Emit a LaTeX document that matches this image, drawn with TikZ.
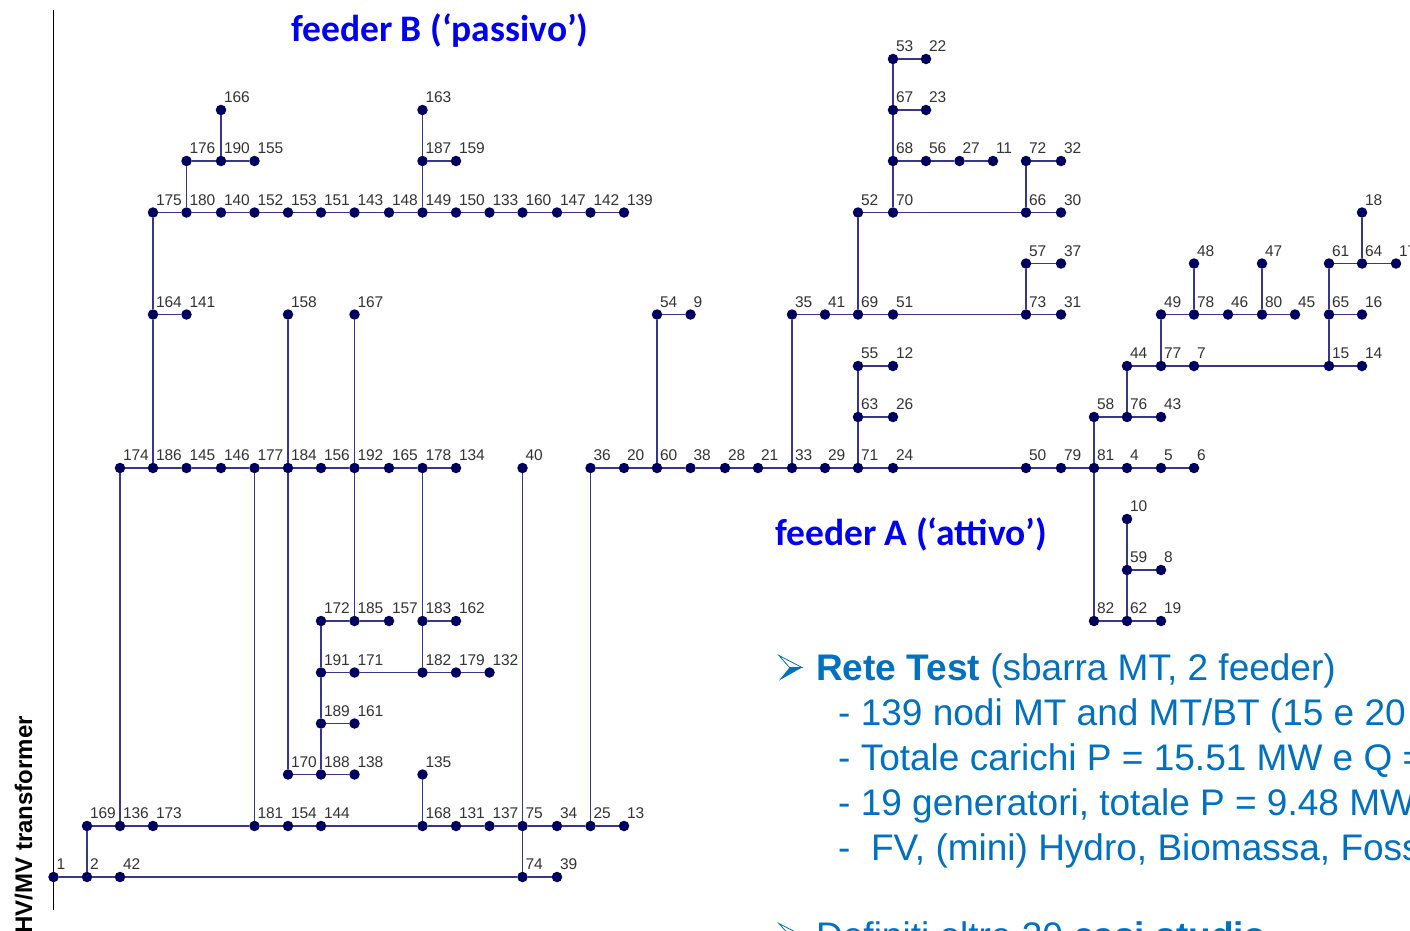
\documentclass[tikz,border=0pt]{standalone}
\usepackage{fontspec}
\setmainfont{Liberation Sans}
\newfontfamily\carlito{Carlito}
\definecolor{busfill}{HTML}{00005E}
\definecolor{wirecol}{HTML}{36368C}
\definecolor{bodyblue}{HTML}{0070C0}
\definecolor{titleblue}{HTML}{0000F0}
\tikzset{
  bus/.style={circle,fill=busfill,draw=none,minimum size=10.5pt,inner sep=0pt},
  lab/.style={anchor=base west,inner sep=0pt,outer sep=0pt,text=black!80,font=\fontsize{15.5}{16}\selectfont},
  wire/.style={draw=wirecol,line width=1.6pt},
  rail/.style={draw=black,line width=1.2pt},
  title/.style={anchor=base west,inner sep=0pt,text=titleblue,font=\carlito\bfseries\fontsize{37.5}{40}\selectfont},
  body/.style={anchor=base west,inner sep=0pt,text=bodyblue,font=\fontsize{37}{40}\selectfont},
  side/.style={anchor=base east,inner sep=0pt,rotate=90,text=black,font=\bfseries\fontsize{24}{26}\selectfont}
}
\begin{document}
\begin{tikzpicture}[x=1pt,y=-1pt]
\useasboundingbox (0,0) rectangle (1410,930);
\clip (0,0) rectangle (1410,930);
\coordinate (railtop) at (53.5,10);
\coordinate (railbot) at (53.5,910);
\draw[rail] (railtop) -- (railbot);
\foreach \y/\lst in {
 59/{53/893,22/926},
 110/{67/893,23/926,166/221,163/422.5},
 161/{176/186.5,190/221,155/254.5,187/422.5,159/456,68/893,56/926,27/959.5,11/993,72/1026,32/1061},
 212.5/{175/153,180/186.5,140/221,152/254.5,153/288,151/321,143/354.5,148/389,149/422.5,150/456,133/489.5,160/522.5,147/557,142/590.5,139/624,52/858,70/893,66/1026,30/1061,18/1362},
 263.5/{57/1026,37/1061,48/1194,47/1262,61/1329,64/1362,17/1396},
 314.5/{164/153,141/186.5,158/288,167/354.5,54/657,9/690.5,35/792,41/825,69/858,51/893,73/1026,31/1061,49/1161,78/1194,46/1228,80/1262,45/1295,65/1329,16/1362},
 366/{55/858,12/893,44/1127,77/1161,7/1194,15/1329,14/1362},
 417/{63/858,26/893,58/1094,76/1127,43/1161},
 468/{174/120,186/153,145/186.5,146/221,177/254.5,184/288,156/321,192/354.5,165/389,178/422.5,134/456,40/522.5,36/590.5,20/624,60/657,38/690.5,28/725,21/758,33/792,29/825,71/858,24/893,50/1026,79/1061,81/1094,4/1127,5/1161,6/1194},
 519/{10/1127},
 570/{59/1127,8/1161},
 621/{172/321,185/354.5,157/389,183/422.5,162/456,82/1094,62/1127,19/1161},
 672.5/{191/321,171/354.5,182/422.5,179/456,132/489.5},
 723.5/{189/321,161/354.5},
 774.5/{170/288,188/321,138/354.5,135/422.5},
 826/{169/87,136/120,173/153,181/254.5,154/288,144/321,168/422.5,131/456,137/489.5,75/522.5,34/557,25/590.5,13/624},
 877/{1/53.5,2/87,42/120,74/522.5,39/557}}{
  \foreach \i/\x in \lst {
    \node[bus] (n\i) at (\x,\y) {};
    \node[lab] (t\i) at (\x+3,\y-7.2) {\i};
  }
}
\begin{scope}[wire]
% horizontal runs
\draw (n53)--(n22);
\draw (n67)--(n23);
\draw (n176)--(n190)--(n155);
\draw (n187)--(n159);
\draw (n68)--(n56)--(n27)--(n11);
\draw (n72)--(n32);
\draw (n175)--(n180)--(n140)--(n152)--(n153)--(n151)--(n143)--(n148)--(n149)--(n150)--(n133)--(n160)--(n147)--(n142)--(n139);
\draw (n52)--(n70)--(n66)--(n30);
\draw (n57)--(n37);
\draw (n61)--(n64)--(n17);
\draw (n164)--(n141);
\draw (n54)--(n9);
\draw (n35)--(n41)--(n69)--(n51)--(n73)--(n31);
\draw (n49)--(n78)--(n46)--(n80)--(n45);
\draw (n65)--(n16);
\draw (n55)--(n12);
\draw (n44)--(n77)--(n7)--(n15)--(n14);
\draw (n63)--(n26);
\draw (n58)--(n76)--(n43);
\draw (n174)--(n186)--(n145)--(n146)--(n177)--(n184)--(n156)--(n192)--(n165)--(n178)--(n134);
\draw (n36)--(n20)--(n60)--(n38)--(n28)--(n21)--(n33)--(n29)--(n71)--(n24)--(n50)--(n79)--(n81)--(n4)--(n5)--(n6);
\draw (n59)--(n8);
\draw (n172)--(n185)--(n157);
\draw (n183)--(n162);
\draw (n82)--(n62)--(n19);
\draw (n191)--(n171)--(n182)--(n179)--(n132);
\draw (n189)--(n161);
\draw (n170)--(n188)--(n138);
\draw (n169)--(n136)--(n173)--(n181)--(n154)--(n144)--(n168)--(n131)--(n137)--(n75)--(n34)--(n25)--(n13);
\draw (n1)--(n2)--(n42)--(n74)--(n39);
% vertical runs
\draw (n53)--(n67)--(n68)--(n70);
\draw (n52)--(n69);
\draw (n55)--(n63)--(n71);
\draw (n72)--(n66);
\draw (n57)--(n73);
\draw (n35)--(n33);
\draw (n54)--(n60);
\draw (n175)--(n164)--(n186);
\draw (n176)--(n180);
\draw (n166)--(n190);
\draw (n163)--(n187)--(n149);
\draw (n158)--(n184)--(n170);
\draw (n167)--(n192)--(n185);
\draw (n178)--(n183)--(n182);
\draw (n172)--(n191)--(n189)--(n188);
\draw (n174)--(n136);
\draw (n177)--(n181);
\draw (n135)--(n168);
\draw (n40)--(n75)--(n74);
\draw (n36)--(n25);
\draw (n169)--(n2);
\draw (n18)--(n64);
\draw (n61)--(n65)--(n15);
\draw (n48)--(n78);
\draw (n47)--(n80);
\draw (n49)--(n77);
\draw (n44)--(n76);
\draw (n58)--(n81)--(n82);
\draw (n10)--(n59)--(n62);
\end{scope}
\node[title] (fb) at (291,41) {feeder B (‘passivo’)};
\node[title] (fa) at (775,545) {feeder A (‘attivo’)};
\node[side] (hv) at (32,716) {HV/MV transformer};
% arrowhead bullets: hollow upper half, solid lower half
\foreach \by in {0,268}{
  \begin{scope}[yshift=-\by pt]
    \draw[bodyblue,line width=0.8pt,line join=miter] (779,655.5) -- (802,667.5) -- (789.5,667.5) -- cycle;
    \fill[bodyblue] (802,667.5) -- (779,680.5) -- (789.5,667.5) -- cycle;
  \end{scope}
}
\node[body] (l1) at (816,680) {\textbf{Rete Test} (sbarra MT, 2 feeder)};
\node[body] (l2) at (838,725) {- 139 nodi MT and MT/BT (15 e 20};
\node[body] (l3) at (838,770) {- Totale carichi P = 15.51 MW e Q =};
\node[body] (l4) at (838,815) {- 19 generatori, totale P = 9.48 MW};
\node[body] (l5) at (838,860) {-\ \ FV, (mini) Hydro, Biomassa, Foss};
\node[body] (l6) at (816,948) {Definiti oltre 30 \textbf{casi studio}};
\end{tikzpicture}
\end{document}
